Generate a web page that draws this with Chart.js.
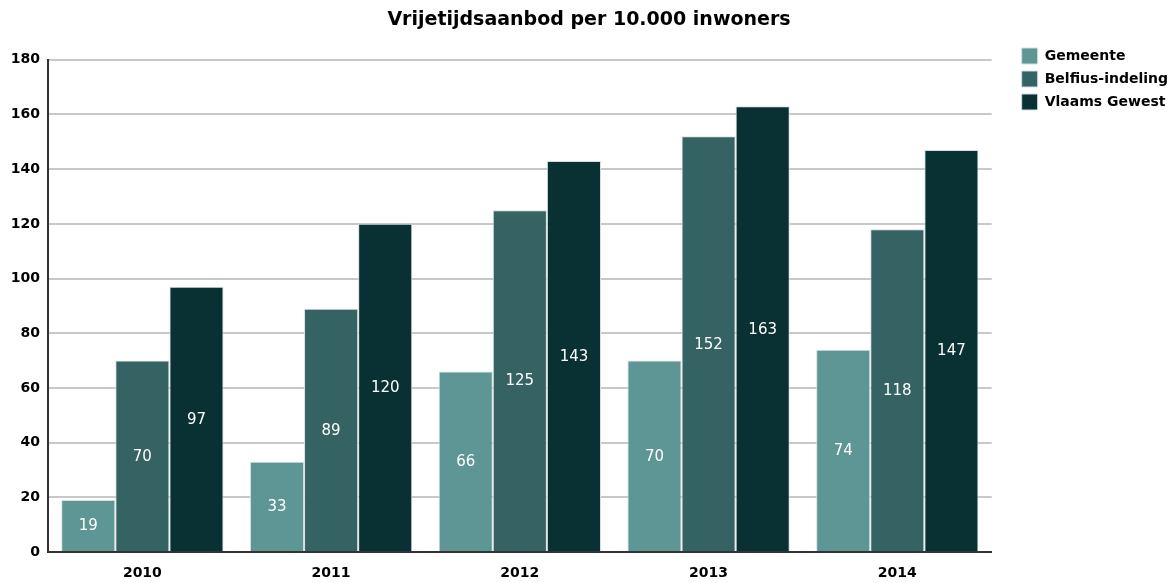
<!DOCTYPE html>
<html>
<head>
<meta charset="utf-8">
<script src="https://cdn.jsdelivr.net/npm/chart.js@4/dist/chart.umd.min.js"></script>
<style>
html, body { margin: 0; padding: 0; background: #ffffff; }
#wrap { width: 1173px; height: 583px; position: relative; }
</style>
</head>
<body>
<div id="wrap"><canvas id="barChart"></canvas></div>
<script>
const years = ['2010', '2011', '2012', '2013', '2014'];
const gemeente = [19, 33, 66, 70, 74];
const belfius = [70, 89, 125, 152, 118];
const vlaams = [97, 120, 143, 163, 147];
const yTicks = [0, 20, 40, 60, 80, 100, 120, 140, 160, 180];

const FONT = "'DejaVu Sans', Verdana, sans-serif";

// values written in the middle of each bar
const barLabels = {
  id: 'barLabels',
  afterDatasetsDraw: function(chart) {
    var ctx = chart.ctx;
    ctx.save();
    ctx.fillStyle = '#ffffff';
    ctx.font = '15px ' + FONT;
    ctx.textAlign = 'center';
    ctx.textBaseline = 'middle';
    chart.data.datasets.forEach(function(ds, i) {
      chart.getDatasetMeta(i).data.forEach(function(bar, j) {
        var mid = (bar.y + bar.base) / 2;
        ctx.fillText(String(ds.data[j]), bar.x, mid + 1);
      });
    });
    ctx.restore();
  }
};

function makeSet(label, data, color) {
  return {
    label: label, data: data, backgroundColor: color,
    borderColor: '#d5dede', borderWidth: 1,
    categoryPercentage: 0.86, barPercentage: 1.0
  };
}

new Chart(document.getElementById('barChart'), {
  type: 'bar',
  data: {
    labels: years,
    datasets: [
      makeSet('Gemeente', gemeente, '#5e9595'),
      makeSet('Belfius-indeling', belfius, '#356363'),
      makeSet('Vlaams Gewest', vlaams, '#093032')
    ]
  },
  options: {
    responsive: true, maintainAspectRatio: false, animation: false,
    layout: { padding: { left: 0, right: -5, top: 0, bottom: 0 } },
    plugins: {
      title: {
        display: true, text: 'Vrijetijdsaanbod per 10.000 inwoners',
        color: '#000000', font: { family: FONT, size: 19, weight: 'bold' },
        padding: { top: 9, bottom: 28 }
      },
      legend: {
        position: 'right', align: 'start',
        title: { display: true, text: '', font: { size: 10 }, padding: { top: 17, bottom: 12 } },
        labels: {
          boxWidth: 16, boxHeight: 16, padding: 7, color: '#000000',
          font: { family: FONT, size: 14, weight: 'bold' }
        }
      },
      tooltip: { enabled: false }
    },
    scales: {
      x: {
        grid: { display: false },
        border: { color: '#333333', width: 2 },
        afterFit: function(axis) { axis.height = 31; },
        ticks: { color: '#000000', font: { family: FONT, size: 14, weight: 'bold' }, padding: 5 }
      },
      y: {
        min: 0, max: 180,
        afterFit: function(axis) { axis.width = 48; },
        afterBuildTicks: function(axis) { axis.ticks = yTicks.map(function(v) { return { value: v }; }); },
        grid: { color: '#c8c8c8', lineWidth: 2, drawTicks: false },
        border: { color: '#333333', width: 2 },
        ticks: { color: '#000000', font: { family: FONT, size: 14, weight: 'bold' }, padding: 8 }
      },
      gap: {
        type: 'linear', position: 'right', min: 0, max: 1,
        afterFit: function(axis) { axis.width = 23; },
        grid: { display: false }, border: { display: false },
        ticks: { display: false }
      }
    }
  },
  plugins: [barLabels]
});
</script>
</body>
</html>
